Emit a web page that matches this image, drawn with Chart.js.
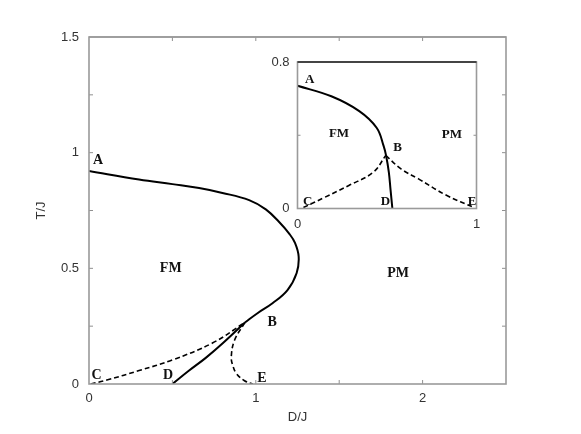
<!DOCTYPE html>
<html>
<head>
<meta charset="utf-8">
<script src="https://cdn.jsdelivr.net/npm/chart.js@4.4.0/dist/chart.umd.min.js"></script>
<style>
body{margin:0;background:#fff;}
#wrap{position:relative;width:581px;height:434px;}
#main{position:absolute;left:0;top:0;}
#inset{position:absolute;left:252px;top:40px;}
</style>
</head>
<body>
<div id="wrap">
<canvas id="main" width="581" height="434"></canvas>
<canvas id="inset" width="250" height="200"></canvas>
</div>
<script>
// main phase diagram, D/J vs T/J
var upperX = [0, 0.3, 0.5, 0.66, 0.8, 0.96, 1.06, 1.14, 1.2, 1.235, 1.257, 1.245, 1.19, 1.10, 1.01, 0.935]
var upperY = [0.921, 0.884, 0.864, 0.847, 0.826, 0.795, 0.755, 0.70, 0.65, 0.61, 0.55, 0.48, 0.406, 0.349, 0.306, 0.266]
var dLineX = [0.5, 0.6, 0.7, 0.8, 0.935]
var dLineY = [0, 0.058, 0.113, 0.175, 0.266]
var cLineX = [0.01, 0.107, 0.3, 0.5, 0.74, 0.935]
var cLineY = [0, 0.017, 0.058, 0.104, 0.177, 0.266]
var eLineX = [0.935, 0.873, 0.853, 0.862, 0.883, 0.93, 0.982]
var eLineY = [0.266, 0.19, 0.118, 0.08, 0.046, 0.015, 0]

var mainLabelText = ['A', 'B', 'C', 'D', 'E', 'FM', 'PM']
var mainLabelX = [0.054, 1.098, 0.046, 0.474, 1.036, 0.49, 1.853]
var mainLabelY = [0.968, 0.265, 0.039, 0.039, 0.026, 0.5, 0.48]

// inset
var insetSolidX = [0, 0.189, 0.345, 0.442, 0.481, 0.495, 0.510, 0.520, 0.530]
var insetSolidY = [0.670, 0.613, 0.532, 0.441, 0.342, 0.288, 0.2, 0.1, 0]
var insetCX = [0.033, 0.15, 0.287, 0.423, 0.493]
var insetCY = [0.005, 0.06, 0.126, 0.198, 0.29]
var insetEX = [0.493, 0.58, 0.676, 0.832, 0.99]
var insetEY = [0.29, 0.215, 0.162, 0.072, 0.004]

var insetLabelText = ['A', 'FM', 'PM', 'B', 'C', 'D', 'E']
var insetLabelX = [0.068, 0.232, 0.862, 0.559, 0.057, 0.491, 0.975]
var insetLabelY = [0.703, 0.411, 0.402, 0.333, 0.04, 0.04, 0.04]

function toPoints(xs, ys){
  var pts = []
  for (var i = 0; i < xs.length; i++){
    pts.push({x: xs[i], y: ys[i]})
  }
  return pts
}

function curve(xs, ys, dashed){
  return {
    data: toPoints(xs, ys),
    showLine: true,
    borderColor: '#000',
    borderWidth: dashed ? 1.6 : 2,
    borderDash: dashed ? [5, 3] : [],
    pointRadius: 0,
    fill: false,
    tension: 0.4
  }
}

function boxPlugin(topColor, tickLen, skipX){
  return {
    id: 'box',
    afterDraw: function(chart){
      var ctx = chart.ctx
      var a = chart.chartArea
      var xs = chart.scales.x
      var ys = chart.scales.y
      ctx.save()
      ctx.strokeStyle = '#909090'
      ctx.lineWidth = 1
      xs.ticks.forEach(function(t){
        if (skipX || t.value == xs.min || t.value == xs.max) return
        var px = xs.getPixelForValue(t.value)
        ctx.beginPath()
        ctx.moveTo(px, a.bottom); ctx.lineTo(px, a.bottom - tickLen)
        ctx.moveTo(px, a.top); ctx.lineTo(px, a.top + tickLen)
        ctx.stroke()
      })
      ys.ticks.forEach(function(t){
        if (t.value == ys.min || t.value == ys.max) return
        var py = ys.getPixelForValue(t.value)
        ctx.beginPath()
        ctx.moveTo(a.left, py); ctx.lineTo(a.left + tickLen, py)
        ctx.moveTo(a.right, py); ctx.lineTo(a.right - tickLen, py)
        ctx.stroke()
      })
      ctx.lineWidth = 1.6
      ctx.strokeStyle = '#9a9a9a'
      ctx.strokeRect(a.left, a.top, a.right - a.left, a.bottom - a.top)
      ctx.strokeStyle = topColor
      ctx.beginPath()
      ctx.moveTo(a.left, a.top); ctx.lineTo(a.right, a.top)
      ctx.stroke()
      ctx.restore()
    }
  }
}

function labelPlugin(texts, lx, ly, size){
  return {
    id: 'letters',
    afterDatasetsDraw: function(chart){
      var ctx = chart.ctx
      ctx.save()
      ctx.fillStyle = '#111'
      ctx.font = 'bold ' + size + 'px "Liberation Serif", serif'
      ctx.textAlign = 'center'
      ctx.textBaseline = 'middle'
      for (var i = 0; i < texts.length; i++){
        ctx.fillText(texts[i], chart.scales.x.getPixelForValue(lx[i]), chart.scales.y.getPixelForValue(ly[i]))
      }
      ctx.restore()
    }
  }
}

var tickFont = {family: '"Liberation Sans", Arial, sans-serif', size: 13}

var mainChart = new Chart(document.getElementById('main'), {
  type: 'scatter',
  data: {
    datasets: [
      curve(upperX, upperY, false),
      curve(dLineX, dLineY, false),
      curve(cLineX, cLineY, true),
      curve(eLineX, eLineY, true)
    ]
  },
  options: {
    responsive: false,
    animation: false,
    layout: {padding: {top: 37, right: 75, bottom: 0, left: 0}},
    plugins: {legend: {display: false}, tooltip: {enabled: false}},
    scales: {
      x: {
        type: 'linear', min: 0, max: 2.5,
        grid: {display: false, drawTicks: false},
        border: {display: false},
        ticks: {
          stepSize: 0.5, padding: 7, color: '#333', font: tickFont, maxRotation: 0, autoSkip: false,
          callback: function(v){ return v % 1 == 0 ? String(v) : '' }
        },
        title: {display: true, text: 'D/J', color: '#333', font: tickFont, padding: {top: 0, bottom: 9}},
        afterFit: function(s){ s.height = 50 }
      },
      y: {
        type: 'linear', min: 0, max: 1.5,
        grid: {display: false, drawTicks: false},
        border: {display: false},
        ticks: {
          stepSize: 0.25, padding: 10, color: '#333', font: tickFont, autoSkip: false,
          callback: function(v){ return v % 0.5 == 0 ? String(v) : '' }
        },
        title: {display: true, text: 'T/J', color: '#333', font: tickFont, padding: {top: 34, bottom: 0}},
        afterFit: function(s){ s.width = 89 }
      }
    }
  },
  plugins: [boxPlugin('#9a9a9a', 4, false), labelPlugin(mainLabelText, mainLabelX, mainLabelY, 14)]
})

// inset canvas is larger than its plot so the layout padding decides the box
var insetChart = new Chart(document.getElementById('inset'), {
  type: 'scatter',
  data: {
    datasets: [
      curve(insetSolidX, insetSolidY, false),
      curve(insetCX, insetCY, true),
      curve(insetEX, insetEY, true)
    ]
  },
  options: {
    responsive: false,
    animation: false,
    layout: {padding: {top: 22, right: 25.5, bottom: 0, left: 0}},
    plugins: {legend: {display: false}, tooltip: {enabled: false}},
    scales: {
      x: {
        type: 'linear', min: 0, max: 1,
        grid: {display: false, drawTicks: false},
        border: {display: false},
        ticks: {stepSize: 1, padding: 8, color: '#333', font: tickFont, maxRotation: 0},
        afterFit: function(s){ s.height = 31.5 }
      },
      y: {
        type: 'linear', min: 0, max: 0.8,
        grid: {display: false, drawTicks: false},
        border: {display: false},
        ticks: {
          stepSize: 0.4, padding: 8, color: '#333', font: tickFont, autoSkip: false,
          callback: function(v){ return (v == 0 || v == 0.8) ? String(v) : '' }
        },
        afterFit: function(s){ s.width = 45.5 }
      }
    }
  },
  plugins: [boxPlugin('#222', 3, true), labelPlugin(insetLabelText, insetLabelX, insetLabelY, 13)]
})
</script>
</body>
</html>
